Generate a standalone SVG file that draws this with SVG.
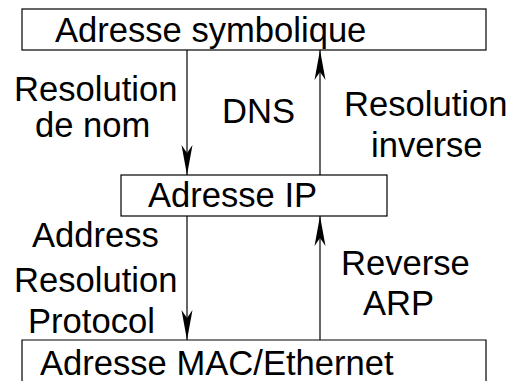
<svg xmlns="http://www.w3.org/2000/svg" width="512" height="381" viewBox="0 0 512 381">
<style>
.box{fill:#fff;stroke:#000;stroke-width:1.2}
.t{font-family:"Liberation Sans",Arial,sans-serif;font-size:34.6px;fill:#000}
.c{stroke:#000;stroke-width:1.2;fill:none}
</style>
<defs>
<marker id="arr" viewBox="-31 -6 32 12" markerWidth="32" markerHeight="12" refX="0" refY="0" orient="auto" markerUnits="userSpaceOnUse">
<path d="M0,0 L-30,-5.5 L-22,0 L-30,5.5 Z" fill="#000"/>
</marker>
</defs>
<rect width="512" height="381" fill="#fff"/>
<g id="node-symbolique">
<rect class="box" x="22" y="9" width="464" height="41"/>
<text class="t" x="55" y="42">Adresse symbolique</text>
</g>
<g id="node-ip">
<rect class="box" x="121" y="175" width="266" height="41"/>
<text class="t" x="148" y="207">Adresse IP</text>
</g>
<g id="node-mac">
<path class="box" d="M22,381 V340 H486 V381"/>
<text class="t" x="40" y="375">Adresse MAC/Ethernet</text>
</g>
<g id="connectors">
<line class="c" x1="187" y1="50" x2="187" y2="175" marker-end="url(#arr)"/>
<line class="c" x1="320" y1="175" x2="320" y2="50" marker-end="url(#arr)"/>
<line class="c" x1="187" y1="216" x2="187" y2="340" marker-end="url(#arr)"/>
<line class="c" x1="320" y1="340" x2="320" y2="216" marker-end="url(#arr)"/>
</g>
<g id="labels">
<text class="t" x="14" y="101">Resolution</text>
<text class="t" x="35" y="137">de nom</text>
<text class="t" x="222" y="123">DNS</text>
<text class="t" x="344" y="116">Resolution</text>
<text class="t" x="371" y="157">inverse</text>
<text class="t" x="32" y="247">Address</text>
<text class="t" x="14" y="292">Resolution</text>
<text class="t" x="28" y="333">Protocol</text>
<text class="t" x="341" y="275">Reverse</text>
<text class="t" x="363" y="315">ARP</text>
</g>
</svg>
